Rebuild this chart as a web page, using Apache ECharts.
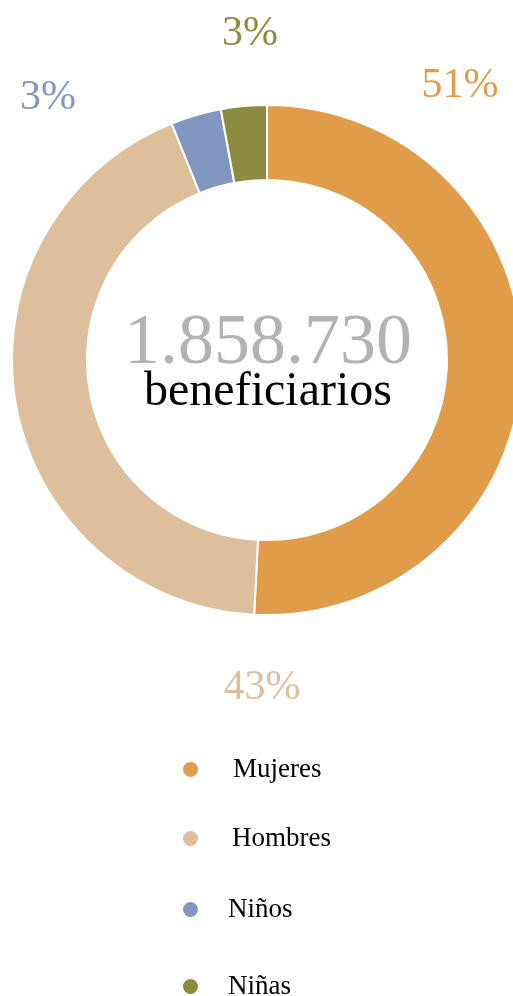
<!DOCTYPE html>
<html>
<head>
<meta charset="utf-8">
<script src="https://cdn.jsdelivr.net/npm/echarts@6/dist/echarts.min.js"></script>
<style>
html,body{margin:0;padding:0;background:#fff;}
#chart{width:513px;height:996px;}
</style>
</head>
<body>
<div id="chart"></div>
<script>
// ---- data ----
const categories = ['Mujeres', 'Hombres', 'Niños', 'Niñas'];
const beneficiaries = [944235, 801113, 59479, 53903];
const colors = ['#E09C48', '#DEBF9C', '#8297C0', '#8C8C3F'];
const centerLabel = 'beneficiarios';

// ---- layout (styles/positions) ----
const labelAnchors = [[460, 86], [262, 688], [48, 98], [250, 34]];
const legendTops = [756, 825, 896, 973];
const legendTextPad = [29, 28, 24, 24];
const serif = '"Liberation Serif", "DejaVu Serif", serif';

const total = beneficiaries.reduce((a, b) => a + b, 0);
const totalText = total.toString().replace(/\B(?=(\d{3})+(?!\d))/g, '.');

const chart = echarts.init(document.getElementById('chart'), null, {renderer: 'canvas'});
chart.setOption({
  animation: false,
  color: colors,
  legend: categories.map((c, i) => ({
    orient: 'vertical',
    left: 181,
    top: legendTops[i],
    height: 30,
    padding: 0,
    itemWidth: 17,
    itemHeight: 17,
    icon: 'circle',
    selectedMode: false,
    data: [c],
    textStyle: {fontFamily: serif, fontSize: 27, color: '#000', padding: [0, 0, 0, legendTextPad[i]]}
  })),
  graphic: [
    {type: 'text', x: 268, y: 344, style: {text: totalText, font: '72px ' + serif, fill: '#B3B3B3', align: 'center', verticalAlign: 'middle'}},
    {type: 'text', x: 268, y: 392, style: {text: centerLabel, font: '48px ' + serif, fill: '#000', align: 'center', verticalAlign: 'middle'}}
  ],
  series: [{
    type: 'pie',
    center: [267, 360],
    radius: [180, 255],
    startAngle: 90,
    clockwise: true,
    avoidLabelOverlap: false,
    itemStyle: {borderColor: '#fff', borderWidth: 2},
    emphasis: {disabled: true},
    label: {
      show: true,
      position: 'outside',
      fontFamily: serif,
      fontSize: 42,
      formatter: p => Math.round(p.percent) + '%',
      color: 'inherit'
    },
    labelLine: {show: false},
    labelLayout: p => ({
      x: labelAnchors[p.dataIndex][0],
      y: labelAnchors[p.dataIndex][1],
      align: 'center',
      verticalAlign: 'middle'
    }),
    data: categories.map((c, i) => ({name: c, value: beneficiaries[i], label: {color: colors[i]}}))
  }]
});
</script>
</body>
</html>
